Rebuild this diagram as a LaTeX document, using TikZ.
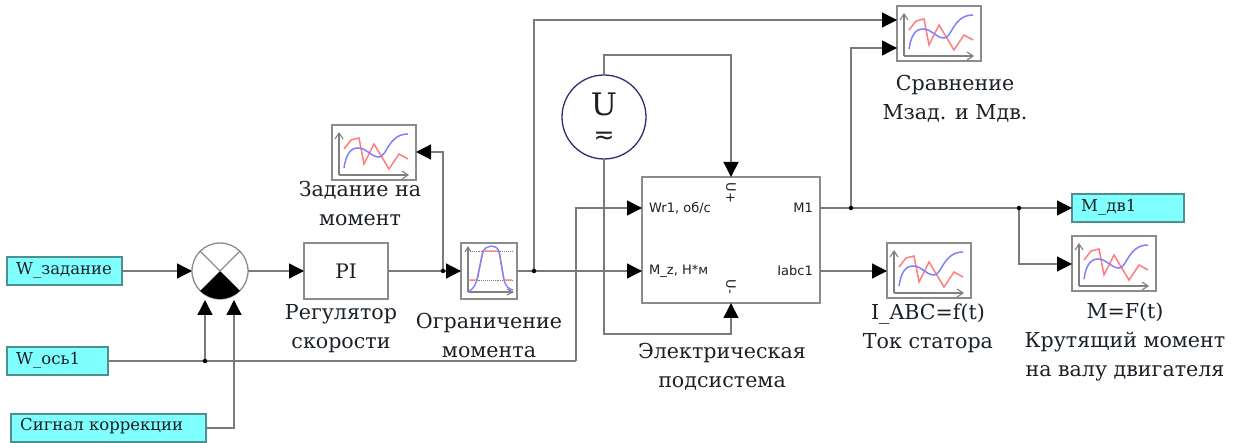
\documentclass[tikz,border=0pt]{standalone}
\usepackage{fontspec}
\setmainfont{DejaVu Serif}
\newfontfamily\symfont{DejaVu Sans}
\newfontfamily\blockfont{DejaVu Sans}
\usetikzlibrary{arrows.meta,positioning}
\definecolor{wirec}{HTML}{7A7A7A}
\definecolor{boxc}{HTML}{8C8C8C}
\definecolor{cyanfill}{HTML}{80FFFF}
\definecolor{cyanedge}{HTML}{4F8F8F}
\definecolor{txtc}{HTML}{1A2026}
\definecolor{navyc}{HTML}{2E2E6E}
\definecolor{plotred}{HTML}{FF7C7C}
\definecolor{plotblue}{HTML}{8080FF}
\tikzset{
  x=1pt,y=-1pt,
  wire/.style={draw=wirec,line width=1.3pt},
  arrowwire/.style={wire,-{Triangle[length=15pt,width=15pt,fill=black,color=black]},shorten >=0pt},
  blockbox/.style={draw=boxc,line width=1.5pt,fill=white,inner sep=0pt,outer sep=0pt,anchor=north west,text=txtc},
  inport/.style={draw=cyanedge,line width=1.1pt,fill=cyanfill,inner sep=0pt,outer sep=0pt,anchor=north west},
  porttext/.style={text=txtc,font=\fontsize{16.5}{20}\selectfont,anchor=west,inner sep=0pt},
  scopebox/.style={blockbox,minimum width=84pt,minimum height=55pt},
  caption/.style={align=center,text=txtc,font=\fontsize{20.6}{29}\selectfont,inner sep=0pt},
  portlabel/.style={text=txtc,inner sep=0pt,font=\blockfont\fontsize{13}{16}\selectfont},
  dotj/.style={circle,fill=black,inner sep=0pt,minimum size=4.5pt},
  pics/scopeplot/.style={code={
    \draw[gray,line width=1.1pt,-{Straight Barb[length=6pt,width=8pt]}] (7,50) -- (7,7);
    \draw[gray,line width=1.1pt,-{Straight Barb[length=6pt,width=8pt]}] (7,50) -- (77,50);
    \draw[plotred,line width=1.5pt] (12,24) -- (19,15) -- (27,13) -- (32,39) -- (42,19) -- (57,44) -- (67,29) -- (76,34);
    \draw[plotblue,line width=1.5pt] (12,43) .. controls (14,30) and (18,23) .. (26,23)
       .. controls (35,23) and (39,32) .. (47,32) .. controls (55,32) and (56,9) .. (76,9);
  }},
  pics/limitplot/.style={code={
    \draw[gray,line width=1.1pt,-{Straight Barb[length=5pt,width=6pt]}] (7,49) -- (7,3);
    \draw[gray,line width=1.1pt,-{Straight Barb[length=6pt,width=6pt]}] (7,49) -- (53,49);
    \draw[gray,densely dotted,line width=.9pt] (7,8) -- (51,8) (7,37) -- (51,37);
    \draw[plotred,line width=1.4pt] (7,37) -- (16,37) -- (22,8) -- (38,8) -- (43,37) -- (51,37);
    \draw[plotblue,line width=1.4pt] (7,49) .. controls (12,46) and (14,43) .. (16,37) -- (22,8)
       .. controls (25,3) and (34,0) .. (38,8) -- (43,37) .. controls (45,44) and (48,46) .. (52,47);
  }},
}
\begin{document}
\begin{tikzpicture}
\useasboundingbox (0,0) rectangle (1244,443);

% input/output ports
\node[inport,minimum width=115pt,minimum height=28pt] (wz) at (7,257) {};
\node[porttext] (wzt) at (16,270) {W\_задание};
\node[inport,minimum width=101pt,minimum height=28pt] (wo) at (7,347) {};
\node[porttext] (wot) at (16,360) {W\_ось1};
\node[inport,minimum width=195pt,minimum height=28pt] (sk) at (11,414) {};
\node[porttext] (skt) at (20,426) {Сигнал коррекции};
\node[inport,minimum width=112pt,minimum height=28pt] (md) at (1072,194) {};
\node[porttext] (mdt) at (1081,207) {M\_дв1};

% summing junction
\node[circle,draw=boxc,line width=1.3pt,fill=white,minimum size=56pt,inner sep=0pt,outer sep=0pt] (sum) at (220,271) {};
\fill[black] (sum.center) -- (sum.south west) arc[start angle=225,end angle=315,radius=28pt] -- cycle;
\draw[boxc,line width=1.1pt] (sum.north west) -- (sum.center) -- (sum.north east);

% blocks
\node[blockbox,minimum width=84pt,minimum height=56pt,font=\fontsize{20}{26}\selectfont] (pi) at (304,243) {PI};
\node[blockbox,minimum width=56pt,minimum height=56pt] (lim) at (461,243) {};
\pic[shift={(461,243)}] {limitplot};
\node[blockbox,minimum width=178pt,minimum height=126pt] (eb) at (642,177) {};
\node[circle,draw=navyc,line width=1.3pt,fill=white,minimum size=84pt,inner sep=0pt,outer sep=0pt] (src) at (604,117) {};
\node[text=txtc,inner sep=0pt,font=\fontsize{31}{36}\selectfont] (srcu) at (604,104) {U};
\node[text=txtc,inner sep=0pt,font=\symfont\fontsize{25}{28}\selectfont] (srcs) at (604,138) {≂};

% scopes
\node[scopebox] (s1) at (332,125) {}; \pic[shift={(332,125)}] {scopeplot};
\node[scopebox] (s2) at (897,6) {};   \pic[shift={(897,6)}] {scopeplot};
\node[scopebox] (s3) at (887,243) {}; \pic[shift={(887,243)}] {scopeplot};
\node[scopebox] (s4) at (1072,236) {};\pic[shift={(1072,236)}] {scopeplot};

% helper coordinates
\coordinate (pin1) at (642,208);
\coordinate (pin2) at (642,271);
\coordinate (pout1) at (820,208);
\coordinate (pout2) at (820,271);
\coordinate (lin) at (461,271);
\coordinate (lout) at (517,271);
\coordinate (pinT) at (731,177);
\coordinate (pinB) at (731,303);
\coordinate (j1) at (205,361);
\coordinate (j2) at (443,271);
\coordinate (j3) at (534,271);
\coordinate (j4) at (851,208);
\coordinate (j5) at (1019,208);
\coordinate (s1in) at (416,152);
\coordinate (s2a) at (897,20);
\coordinate (s2b) at (897,48);
\coordinate (s3in) at (887,271);
\coordinate (s4in) at (1072,264);
\coordinate (mdin) at (1072,208);
\coordinate (sumA) at (205,300);
\coordinate (sumB) at (234,300);
\coordinate (rise) at (576,361);

% connectors
\draw[arrowwire] (wz.east) -- (sum.west);
\draw[arrowwire] (sum.east) -- (pi.west);
\draw[arrowwire] (pi.east) -- (lin);
\draw[arrowwire] (j2) -- (443,152) -- (s1in);
\draw[wire] (wo.east) -- (j1) -- (rise);
\draw[arrowwire] (j1) -- (sumA);
\draw[arrowwire] (sk.east) -- (234,428) -- (sumB);
\draw[arrowwire] (rise) -- (576,208) -- (pin1);
\draw[arrowwire] (lout) -- (pin2);
\draw[arrowwire] (j3) -- (534,20) -- (s2a);
\draw[arrowwire] (src.north) -- (604,55) -- (731,55) -- (pinT);
\draw[arrowwire] (src.south) -- (604,334) -- (731,334) -- (pinB);
\draw[wire] (pout1) -- (j4) -- (j5);
\draw[arrowwire] (j4) -- (851,48) -- (s2b);
\draw[arrowwire] (j5) -- (mdin);
\draw[arrowwire] (j5) -- (1019,264) -- (s4in);
\draw[arrowwire] (pout2) -- (s3in);

% junction dots
\node[dotj] (d1) at (j1) {};
\node[dotj] (d2) at (j2) {};
\node[dotj] (d3) at (j3) {};
\node[dotj] (d4) at (j4) {};
\node[dotj] (d5) at (j5) {};

% port labels
\node[portlabel,anchor=west] (lw) at (649,208) {Wr1, об/с};
\node[portlabel,anchor=west] (lm) at (649,271) {M\_z, Н*м};
\node[portlabel,anchor=east] (lm1) at (813,208) {M1};
\node[portlabel,anchor=east] (lia) at (813,271) {Iabc1};
\node[portlabel,rotate=-90] (lup) at (731,193) {U+};
\node[portlabel,rotate=-90] (lum) at (731,287) {U-};

% captions
\node[caption] (c1) at (360,204) {Задание на\\момент};
\node[caption] (c2) at (341,329) {Регулятор\\скорости};
\node[caption] (c3) at (489,336) {Ограничение\\момента};
\node[caption] (c4) at (722,367) {Электрическая\\подсистема};
\node[caption] (c5) at (928,328) {I\_ABC=f(t)\\Ток статора};
\node[caption] (c6) at (1125,342) {M=F(t)\\Крутящий момент\\на валу двигателя};
\node[caption] (c7) at (955,99) {Сравнение\\Мзад. и Мдв.};
\end{tikzpicture}
\end{document}
